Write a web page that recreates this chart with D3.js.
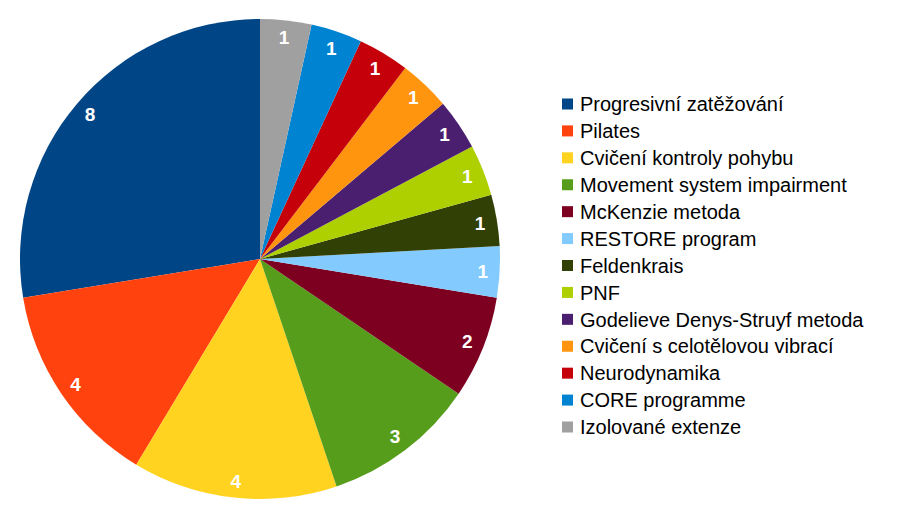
<!DOCTYPE html>
<html><head><meta charset="utf-8">
<script src="https://cdn.jsdelivr.net/npm/d3@7"></script>
<style>body{margin:0;background:#fff}svg{display:block}</style>
</head><body><svg id="c" width="908" height="510"></svg>
<script>
const categories = ["Progresivní zatěžování","Pilates","Cvičení kontroly pohybu","Movement system impairment","McKenzie metoda","RESTORE program","Feldenkrais","PNF","Godelieve Denys-Struyf metoda","Cvičení s celotělovou vibrací","Neurodynamika","CORE programme","Izolované extenze"];
const values = [8,4,4,3,2,1,1,1,1,1,1,1,1];
const colors = ["#004586","#ff420e","#ffd320","#579d1c","#7e0021","#83caff","#314004","#aecf00","#4b1f6f","#ff950e","#c5000b","#0084d1","#a0a0a0"];

const svg = d3.select("#c");
const cx = 260, cy = 259, r = 240;
const data = categories.map((c,i)=>({name:c,value:values[i],color:colors[i]}));
const pie = d3.pie().value(d=>d.value).sort(null).startAngle(0).endAngle(-2*Math.PI);
const arcs = pie(data);
const arc = d3.arc().innerRadius(0).outerRadius(r);
const g = svg.append("g").attr("transform",`translate(${cx},${cy})`);
g.selectAll("path").data(arcs).join("path").attr("d",arc).attr("fill",d=>d.data.color);
g.selectAll("text").data(arcs).join("text")
  .attr("transform",d=>{const a=(d.startAngle+d.endAngle)/2;return `translate(${Math.sin(a)*223},${-Math.cos(a)*223})`;})
  .attr("text-anchor","middle").attr("dy","0.36em")
  .attr("fill","#fff").attr("font-family","Liberation Sans, Arial, sans-serif")
  .attr("font-weight","bold").attr("font-size",19)
  .text(d=>d.data.value);

const leg = svg.append("g").attr("transform","translate(562,104)");
const y = d3.scalePoint().domain(categories).range([0,323]);
const rows = leg.selectAll("g").data(data).join("g").attr("transform",d=>`translate(0,${y(d.name)})`);
rows.append("rect").attr("x",0).attr("y",-5.5).attr("width",11).attr("height",11).attr("fill",d=>d.color);
rows.append("text").attr("x",18).attr("dy","0.36em").attr("font-family","Liberation Sans, Arial, sans-serif")
  .attr("font-size",20).attr("fill","#000").text(d=>d.name);
</script></body></html>
